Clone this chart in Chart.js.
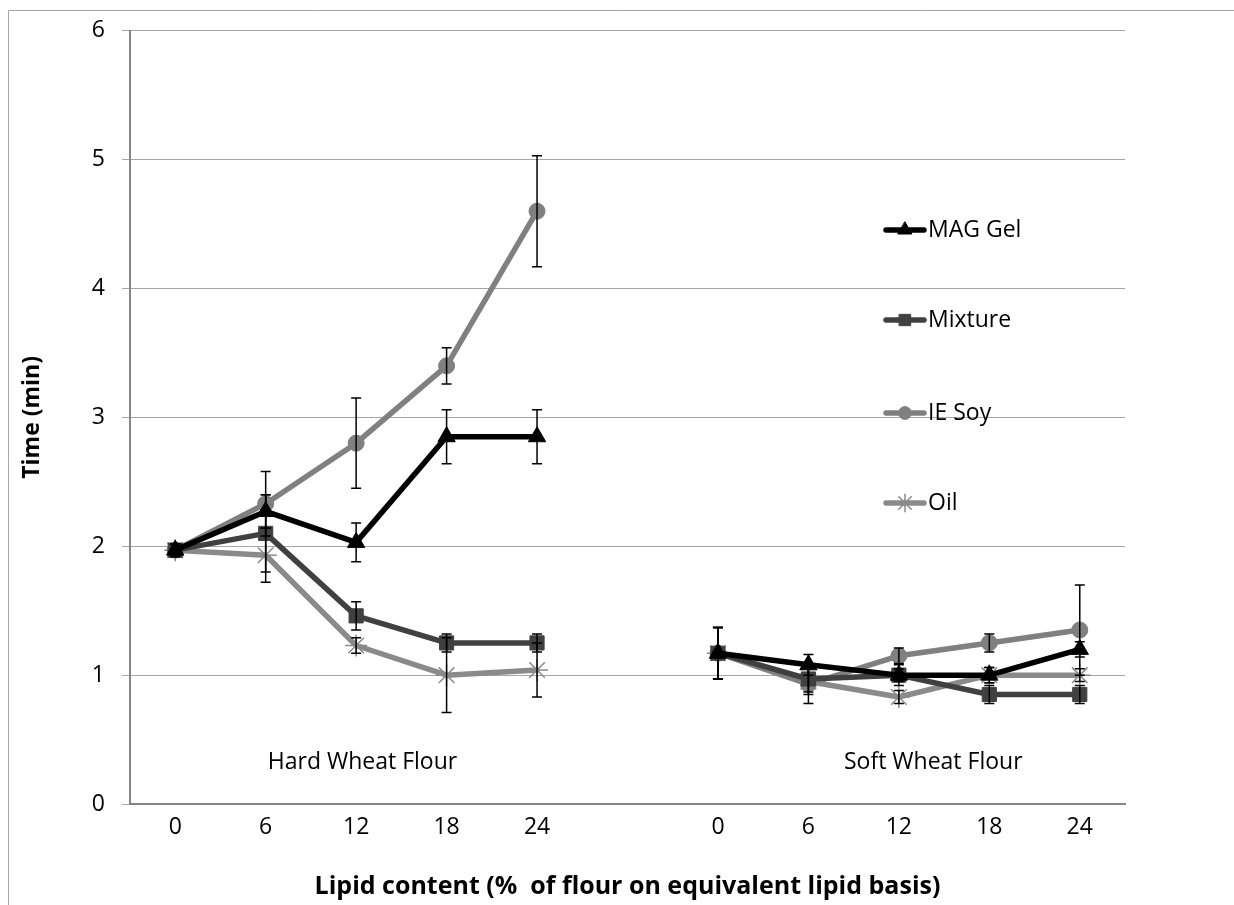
<!DOCTYPE html>
<html>
<head>
<meta charset="utf-8">
<script src="https://cdn.jsdelivr.net/npm/chart.js@4.4.0/dist/chart.umd.min.js"></script>
<style>
  body { margin: 0; background: #fff; }
  canvas { display: block; }
</style>
</head>
<body>
<canvas id="lipid_time" width="1234" height="905"></canvas>
<script>
/*_____________________DATA____________________*/

const lipid = ['0', '6', '12', '18', '24'];
const flours = ['Hard Wheat Flour', 'Soft Wheat Flour'];

// hard wheat flour
const mag_hard = [1.97, 2.27, 2.03, 2.85, 2.85];
const mix_hard = [1.97, 2.10, 1.46, 1.25, 1.25];
const soy_hard = [1.97, 2.33, 2.80, 3.40, 4.60];
const oil_hard = [1.97, 1.93, 1.23, 1.00, 1.04];
const mag_hard_err = [0.05, 0.13, 0.15, 0.21, 0.21];
const mix_hard_err = [0.05, 0.30, 0.11, 0.07, 0.07];
const soy_hard_err = [0.05, 0.25, 0.35, 0.14, 0.43];
const oil_hard_err = [0.05, 0.21, 0.06, 0.29, 0.21];

// soft wheat flour
const mag_soft = [1.17, 1.08, 1.00, 1.00, 1.20];
const mix_soft = [1.17, 0.97, 1.00, 0.85, 0.85];
const soy_soft = [1.17, 0.93, 1.15, 1.25, 1.35];
const oil_soft = [1.17, 0.95, 0.83, 1.00, 1.00];
const mag_soft_err = [0.20, 0.08, 0.05, 0.06, 0.06];
const mix_soft_err = [0.20, 0.10, 0.08, 0.07, 0.07];
const soy_soft_err = [0.20, 0.15, 0.06, 0.07, 0.35];
const oil_soft_err = [0.20, 0.10, 0.05, 0.06, 0.05];

// one empty category between the two flours
const labels = [...lipid, '', ...lipid];
const join = (a, b) => [...a, null, ...b];

const FONT = '"Open Sans"';

/*_____________________PLUGINS____________________*/

// white page + the two visible edges of the outer frame
const frame = {
  id: 'frame',
  beforeDraw(chart) {
    const ctx = chart.ctx;
    ctx.save();
    ctx.fillStyle = '#fff';
    ctx.fillRect(0, 0, chart.width, chart.height);
    ctx.strokeStyle = '#a6a6a6';
    ctx.lineWidth = 1;
    ctx.beginPath();
    ctx.moveTo(8.5, chart.height);
    ctx.lineTo(8.5, 10.5);
    ctx.lineTo(chart.width, 10.5);
    ctx.stroke();
    ctx.restore();
  }
};

const errorBars = {
  id: 'errorBars',
  afterDatasetsDraw(chart) {
    const ctx = chart.ctx;
    const xs = chart.scales.x, ys = chart.scales.y;
    ctx.save();
    ctx.strokeStyle = '#000';
    ctx.lineWidth = 1.5;
    chart.data.datasets.forEach(ds => {
      ds.data.forEach((v, i) => {
        const e = ds.err[i];
        if (v == null || e == null) return;
        const x = xs.getPixelForValue(i);
        const y1 = ys.getPixelForValue(v + e);
        const y2 = ys.getPixelForValue(v - e);
        ctx.beginPath();
        ctx.moveTo(x, y1); ctx.lineTo(x, y2);
        ctx.moveTo(x - 5, y1); ctx.lineTo(x + 5, y1);
        ctx.moveTo(x - 5, y2); ctx.lineTo(x + 5, y2);
        ctx.stroke();
      });
    });
    ctx.restore();
  }
};

// flour names under each group + the legend on the right
const annotations = {
  id: 'annotations',
  afterDraw(chart) {
    const ctx = chart.ctx;
    const xs = chart.scales.x, ys = chart.scales.y;
    ctx.save();
    ctx.font = '23px ' + FONT;
    ctx.fillStyle = '#000';
    ctx.textAlign = 'center';
    ctx.textBaseline = 'middle';
    ctx.fillText(flours[0], xs.getPixelForValue(2.07), ys.getPixelForValue(0.32));
    ctx.fillText(flours[1], xs.getPixelForValue(8.38), ys.getPixelForValue(0.32));

    const legY = [230, 320, 413, 503];
    chart.data.datasets.forEach((ds, k) => {
      const y = legY[k];
      ctx.strokeStyle = ds.borderColor;
      ctx.lineWidth = 5.5;
      ctx.lineCap = 'round';
      ctx.beginPath();
      ctx.moveTo(886, y); ctx.lineTo(924, y);
      ctx.stroke();
      ctx.fillStyle = ds.pointBackgroundColor;
      ctx.strokeStyle = ds.pointBorderColor;
      ctx.lineWidth = ds.pointBorderWidth;
      Chart.helpers.drawPoint(ctx, {pointStyle: ds.pointStyle, radius: ds.pointRadius * 0.8, rotation: 0, borderWidth: ds.pointBorderWidth}, 905, y);
      ctx.fillStyle = '#000';
      ctx.textAlign = 'left';
      ctx.fillText(ds.label, 928, y);
    });
    ctx.restore();
  }
};

/*_____________________CHART____________________*/

const lipid_time = document.getElementById('lipid_time');
const lipid_time_setup = {
  labels: labels,
  datasets: [
    {
      label: 'MAG Gel',
      data: join(mag_hard, mag_soft),
      err: join(mag_hard_err, mag_soft_err),
      borderColor: '#000000',
      pointBackgroundColor: '#000000',
      pointBorderColor: '#000000',
      pointBorderWidth: 1,
      pointStyle: 'triangle',
      pointRadius: 10
    },
    {
      label: 'Mixture',
      data: join(mix_hard, mix_soft),
      err: join(mix_hard_err, mix_soft_err),
      borderColor: '#404040',
      pointBackgroundColor: '#404040',
      pointBorderColor: '#404040',
      pointBorderWidth: 1,
      pointStyle: 'rect',
      pointRadius: 10
    },
    {
      label: 'IE Soy',
      data: join(soy_hard, soy_soft),
      err: join(soy_hard_err, soy_soft_err),
      borderColor: '#808080',
      pointBackgroundColor: '#808080',
      pointBorderColor: '#808080',
      pointBorderWidth: 1,
      pointStyle: 'circle',
      pointRadius: 8
    },
    {
      label: 'Oil',
      data: join(oil_hard, oil_soft),
      err: join(oil_hard_err, oil_soft_err),
      borderColor: '#8a8a8a',
      pointBackgroundColor: '#8a8a8a',
      pointBorderColor: '#8a8a8a',
      pointBorderWidth: 1.5,
      pointStyle: 'star',
      pointRadius: 11
    }
  ]
};

new Chart(lipid_time, {
  type: 'line',
  data: lipid_time_setup,
  plugins: [frame, errorBars, annotations],
  options: {
    responsive: false,
    animation: false,
    devicePixelRatio: 1,
    spanGaps: false,
    layout: { padding: { top: 30, right: 109, left: 0, bottom: 0 } },
    elements: {
      line: { borderWidth: 5.5, tension: 0, borderJoinStyle: 'round', borderCapStyle: 'round' },
      point: { hoverRadius: 10 }
    },
    plugins: {
      legend: { display: false },
      tooltip: { enabled: false }
    },
    scales: {
      x: {
        offset: true,
        grid: { display: false },
        border: { display: true, color: '#868686', width: 2 },
        ticks: { color: '#000', font: { family: FONT, size: 23 }, padding: 2, maxRotation: 0, autoSkip: false },
        title: {
          display: true,
          text: 'Lipid content (%  of flour on equivalent lipid basis)',
          color: '#000',
          font: { family: FONT, size: 25, weight: 'bold' },
          padding: { top: 4, bottom: 3 }
        },
        afterFit(scale) { scale.height = 101; }
      },
      y: {
        min: 0,
        max: 6,
        grid: { color: '#a6a6a6', lineWidth: 1, tickLength: 8, drawTicks: true },
        border: { display: true, color: '#868686', width: 2 },
        ticks: { stepSize: 1, color: '#000', font: { family: FONT, size: 23 }, padding: 17 },
        title: {
          display: true,
          text: 'Time (min)',
          color: '#000',
          font: { family: FONT, size: 23, weight: 'bold' },
          padding: { top: 19, bottom: 0 }
        },
        afterFit(scale) { scale.width = 130; }
      }
    }
  }
});
</script>
</body>
</html>
